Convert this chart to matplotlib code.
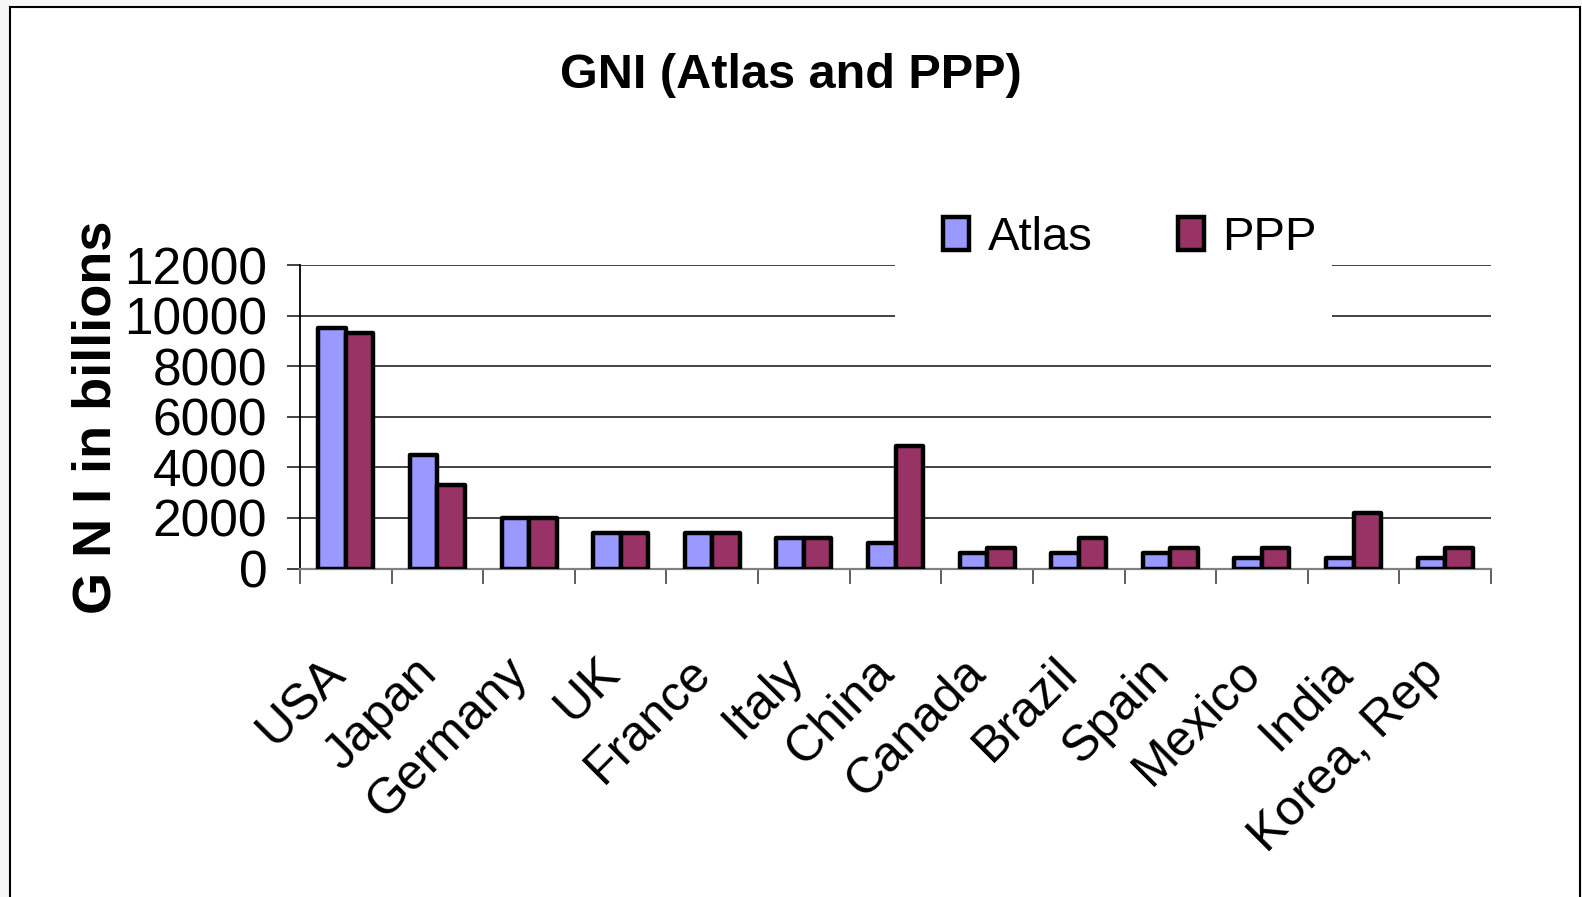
import matplotlib
matplotlib.use("Agg")
import matplotlib.pyplot as plt
from matplotlib.patches import Rectangle
import numpy as np

plt.rcParams['font.family'] = ['Liberation Sans', 'DejaVu Sans']

countries = ['USA', 'Japan', 'Germany', 'UK', 'France', 'Italy', 'China',
             'Canada', 'Brazil', 'Spain', 'Mexico', 'India', 'Korea, Rep']
atlas = [9500, 4500, 2000, 1400, 1400, 1200, 1000, 600, 600, 600, 400, 400, 400]
ppp = [9300, 3300, 2000, 1400, 1400, 1200, 4850, 800, 1200, 800, 800, 2200, 800]
yticks = [0, 2000, 4000, 6000, 8000, 10000, 12000]

W, H = 1582, 897
fig = plt.figure(figsize=(W / 100, H / 100), dpi=100, facecolor='#f7f7f7')
# white chart area with border on left/top/right
fig.add_artist(Rectangle((10 / W, -0.05), 1570 / W, 1.05 - 7 / H,
                         transform=fig.transFigure, facecolor='white',
                         edgecolor='black', linewidth=1.5, zorder=-10))

ax = fig.add_axes([300 / W, 1 - 568.5 / H, 1191 / W, 303.5 / H])
ax.set_facecolor('none')

x = np.arange(len(countries))
w = 0.3
ax.bar(x - w / 2, atlas, w, color='#9999FF', edgecolor='black', linewidth=3.2,
       joinstyle='round', label='Atlas', zorder=3)
ax.bar(x + w / 2, ppp, w, color='#993366', edgecolor='black', linewidth=3.2,
       joinstyle='round', label='PPP', zorder=3)

ax.set_xlim(-0.5, len(countries) - 0.5)
ax.set_ylim(0, 12000)
ax.set_yticks(yticks)
ax.set_yticklabels([str(v) for v in yticks], fontsize=37)
ax.yaxis.grid(True, color='#222222', linewidth=1.2)
ax.set_axisbelow(True)

# labels sit a little left of the group centre (invisible major ticks)
ax.set_xticks(x - 0.09)
ax.set_xticklabels(countries, fontsize=36, rotation=45, ha='right',
                   va='center', rotation_mode='anchor')
ax.set_xticks(np.arange(-0.5, len(countries), 1), minor=True)
ax.tick_params(axis='x', which='major', length=0, pad=70)
ax.tick_params(axis='x', which='minor', length=11, width=1.2, color='#444444')
ax.tick_params(axis='y', length=9.5, width=1.2, pad=14, color='#222222')

for s in ['top', 'right']:
    ax.spines[s].set_visible(False)
ax.spines['left'].set_color('black')
ax.spines['left'].set_linewidth(1.3)
ax.spines['bottom'].set_color('#808080')
ax.spines['bottom'].set_linewidth(1.6)

# white box behind the legend, hiding the top gridlines
fig.add_artist(Rectangle((895 / W, 1 - 332 / H), 437 / W, 140 / H,
                         transform=fig.transFigure, facecolor='white',
                         edgecolor='none', zorder=4))
leg = fig.legend(loc='center', bbox_to_anchor=(1130 / W, 1 - 238 / H),
                 ncol=2, fontsize=34, handlelength=0.55, handleheight=0.68,
                 handletextpad=0.4, columnspacing=1.8, frameon=False)
leg.set_zorder(10)

fig.text(0.5, 1 - 75 / H, 'GNI (Atlas and PPP)', ha='center', va='center',
         fontsize=35, fontweight='bold')
fig.text(97 / W, 1 - 417 / H, 'G N I in billions', ha='center',
         va='center', rotation=90, fontsize=39, fontweight='bold')

fig.savefig('out.png', dpi=100, facecolor=fig.get_facecolor())
